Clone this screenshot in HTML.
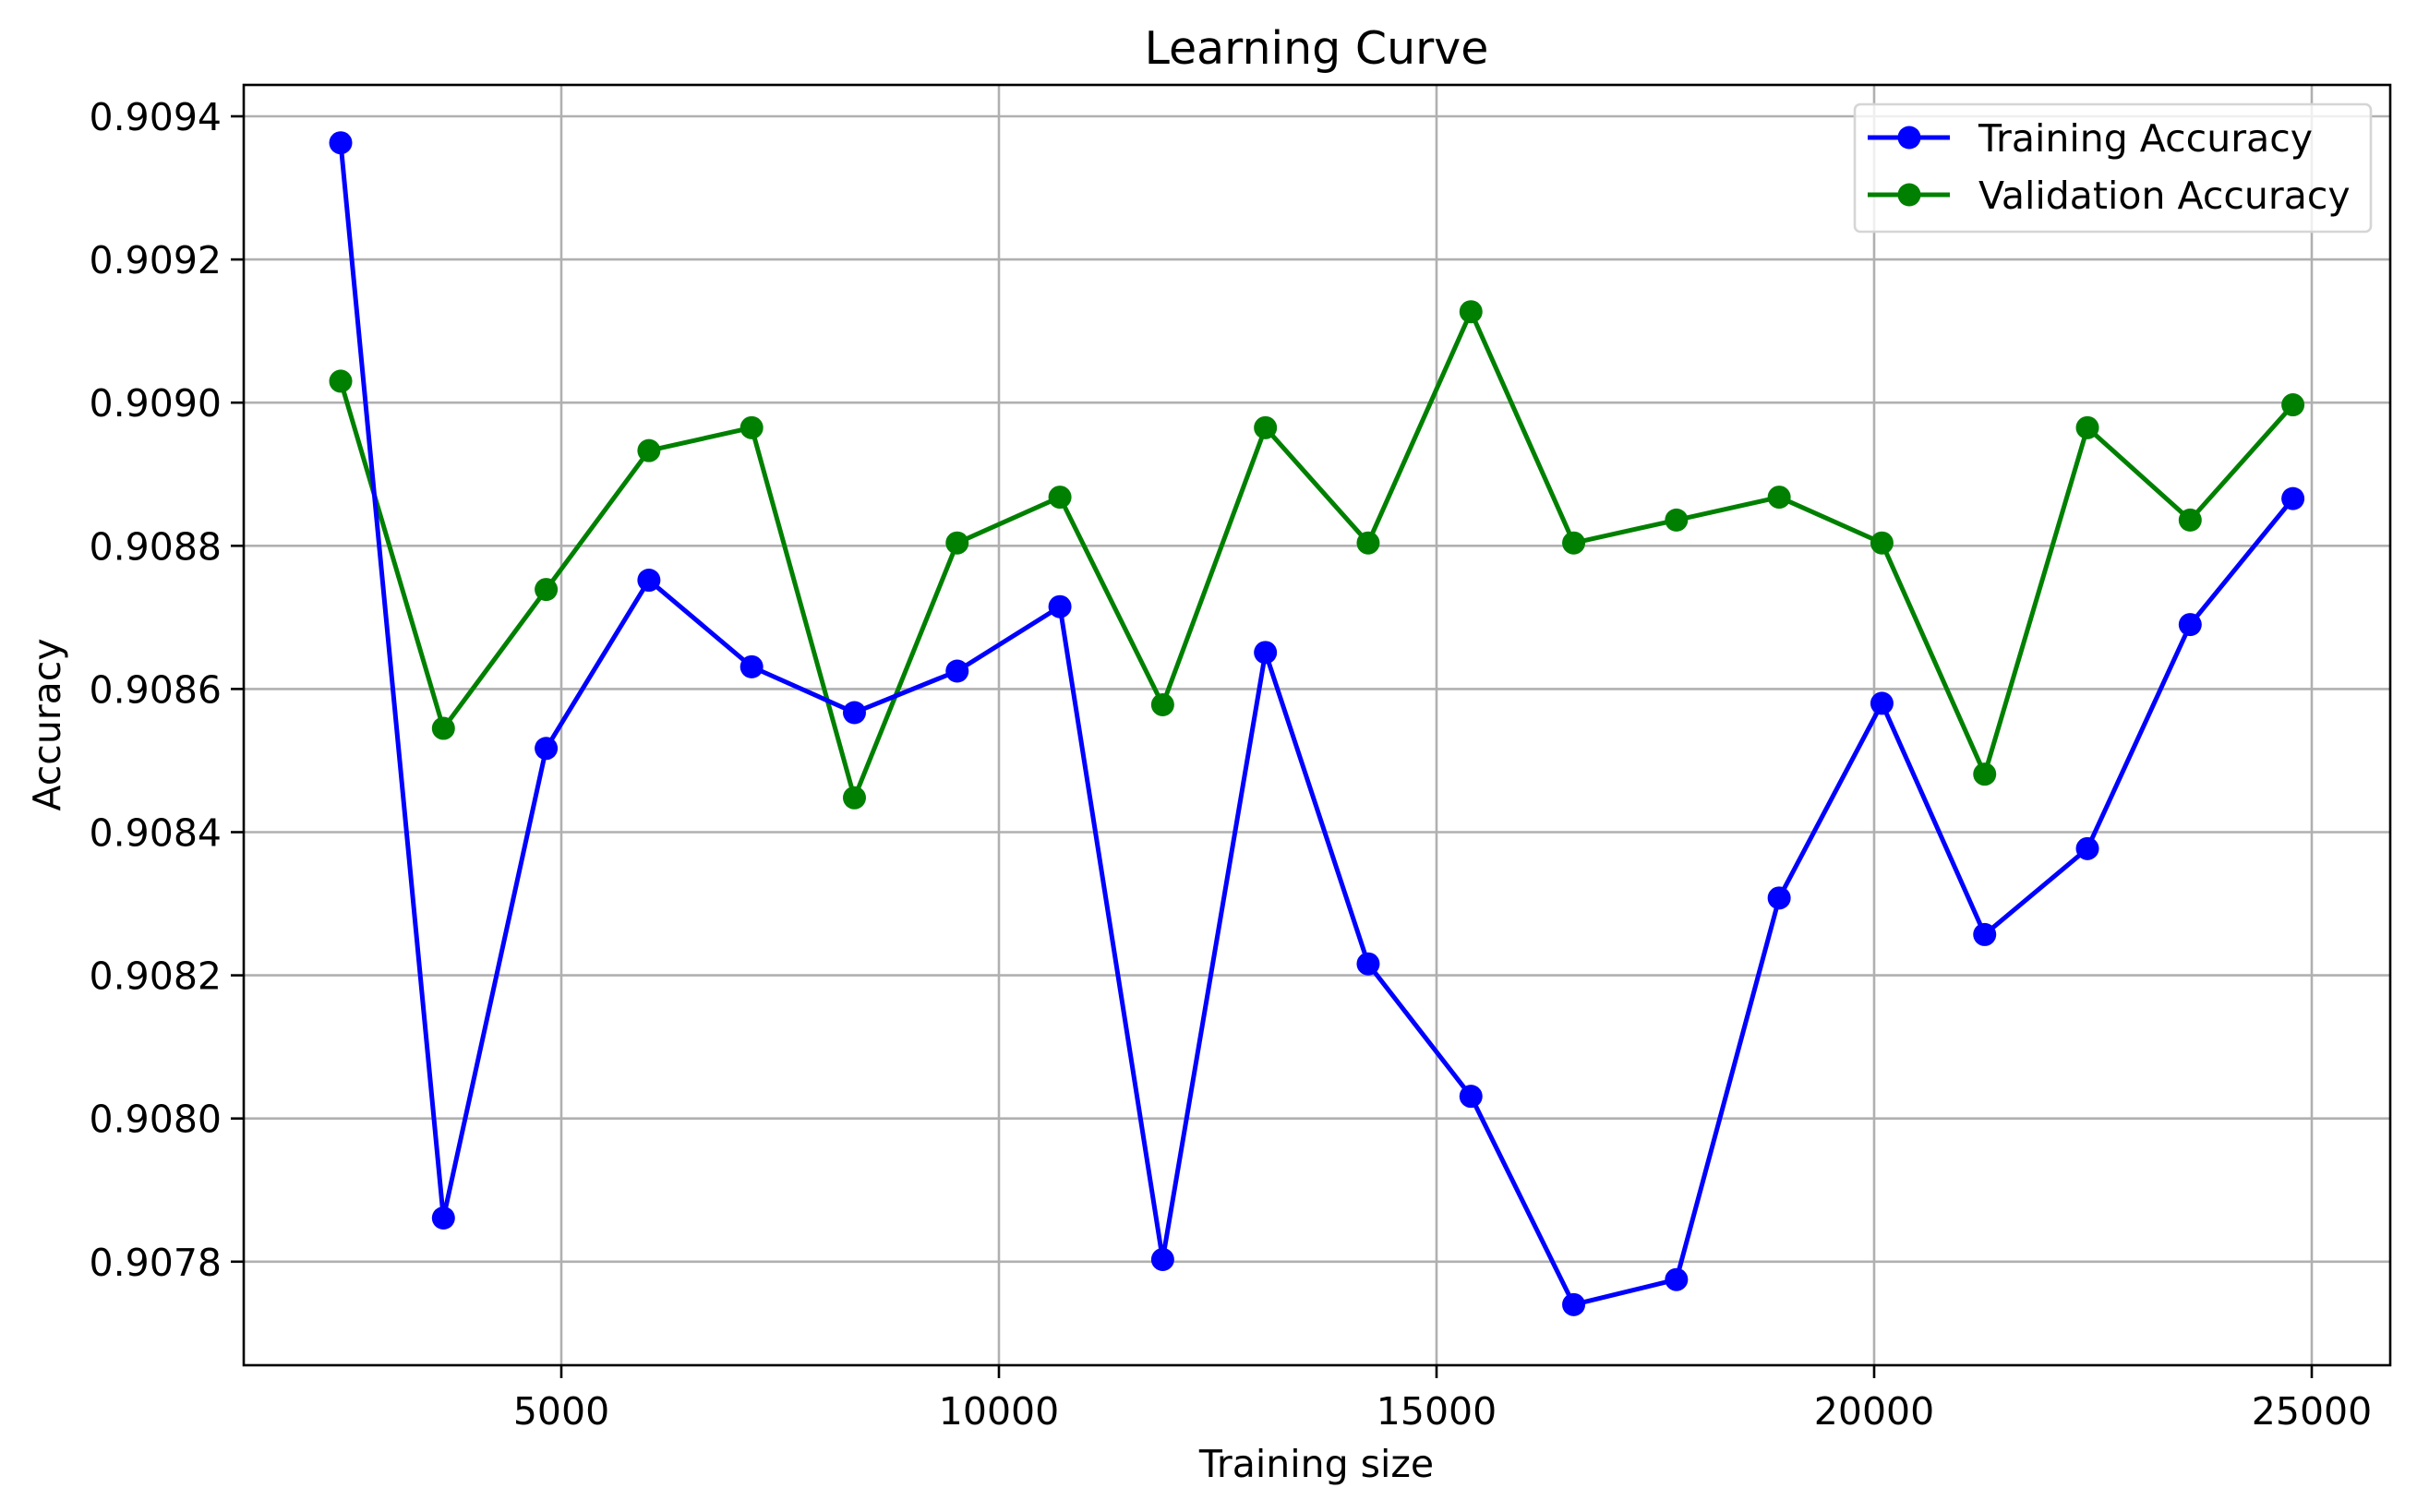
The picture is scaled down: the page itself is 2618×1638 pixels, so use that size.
<!DOCTYPE html>
<html><head><meta charset="utf-8"><style>html,body{margin:0;padding:0;background:#fff}svg{display:block}text{font-family:"DejaVu Sans","Liberation Sans",sans-serif;fill:#000}</style></head>
<body>
<svg id="chart" width="2618" height="1638" xmlns="http://www.w3.org/2000/svg"></svg>
<script>
const trainSizes=[2479,3653,4827,6001,7175,8349,9523,10697,11871,13045,14219,15393,16567,17741,18915,20089,21263,22437,23611,24785];
const trainAcc=[0.909363,0.907861,0.908517,0.908752,0.908631,0.908567,0.908625,0.908715,0.907803,0.908651,0.908216,0.908031,0.907740,0.907775,0.908308,0.908580,0.908257,0.908377,0.908690,0.908866];
const valAcc=[0.909030,0.908545,0.908739,0.908933,0.908965,0.908448,0.908804,0.908868,0.908578,0.908965,0.908804,0.909127,0.908804,0.908836,0.908868,0.908804,0.908481,0.908965,0.908836,0.908997];
const xTicks=[5000,10000,15000,20000,25000];
const yTicks=[0.9078,0.9080,0.9082,0.9084,0.9086,0.9088,0.9090,0.9092,0.9094];
const NS="http://www.w3.org/2000/svg";
const svg=document.getElementById('chart');
const L=264,R=2589,T=92,B=1479;
function sx(v){return 608+(v-5000)*0.0948;}
function sy(v){return 126+(0.9094-v)/0.0002*155.1;}
function mk(tag,attrs,parent){const e=document.createElementNS(NS,tag);for(const k in attrs)e.setAttribute(k,attrs[k]);(parent||svg).appendChild(e);return e;}
xTicks.forEach(t=>{const x=sx(t);
 const g=mk('line',{x1:x,x2:x,y1:T,y2:B,stroke:'#b0b0b0','stroke-width':2.6});
 
 
 mk('line',{x1:x,x2:x,y1:B,y2:B+14,stroke:'#000','stroke-width':2.6});
 const tx=mk('text',{x:x,y:1543,'text-anchor':'middle','font-size':41});tx.textContent=String(t);
 
 
});
yTicks.forEach(t=>{const y=sy(t);
 const g=mk('line',{x1:L,x2:R,y1:y,y2:y,stroke:'#b0b0b0','stroke-width':2.6});
 
 
 mk('line',{x1:L-14,x2:L,y1:y,y2:y,stroke:'#000','stroke-width':2.6});
 const tx=mk('text',{x:240,y:y+15,'text-anchor':'end','font-size':41});tx.textContent=t.toFixed(4);
 
 
});
function series(vals,color,name){
 const pts=trainSizes.map((s,i)=>sx(s)+','+sy(vals[i])).join(' ');
 const pl=mk('polyline',{points:pts,fill:'none',stroke:color,'stroke-width':5,'stroke-linejoin':'round'});
 
 
 trainSizes.forEach((s,i)=>{const c=mk('circle',{cx:sx(s),cy:sy(vals[i]),r:12.5,fill:color});
  
  });
}
series(valAcc,'#008000','validation');
series(trainAcc,'#0000ff','training');
const frame=mk('rect',{x:L,y:T,width:R-L,height:B-T,fill:'none',stroke:'#000','stroke-width':2.6});


const lg=mk('g',{});


mk('rect',{x:2009,y:113,width:559,height:138,rx:6,fill:'rgba(255,255,255,0.8)',stroke:'#d5d5d5','stroke-width':2.6},lg);
[['Training Accuracy','#0000ff',149],['Validation Accuracy','#008000',211]].forEach(([lab,c,y])=>{
 mk('line',{x1:2023,x2:2112,y1:y,y2:y,stroke:c,'stroke-width':5},lg);
 mk('circle',{cx:2068,cy:y,r:12.5,fill:c},lg);
 const t=mk('text',{x:2143,y:y+15,'font-size':41},lg);t.textContent=lab;
 
 
});
const title=mk('text',{x:1426,y:69,'text-anchor':'middle','font-size':49});title.textContent='Learning Curve';


const xl=mk('text',{x:1426,y:1600,'text-anchor':'middle','font-size':41});xl.textContent='Training size';


const yl=mk('text',{x:0,y:0,'text-anchor':'middle','font-size':41,transform:'translate(65,785) rotate(-90)'});yl.textContent='Accuracy';


</script>
</body></html>
